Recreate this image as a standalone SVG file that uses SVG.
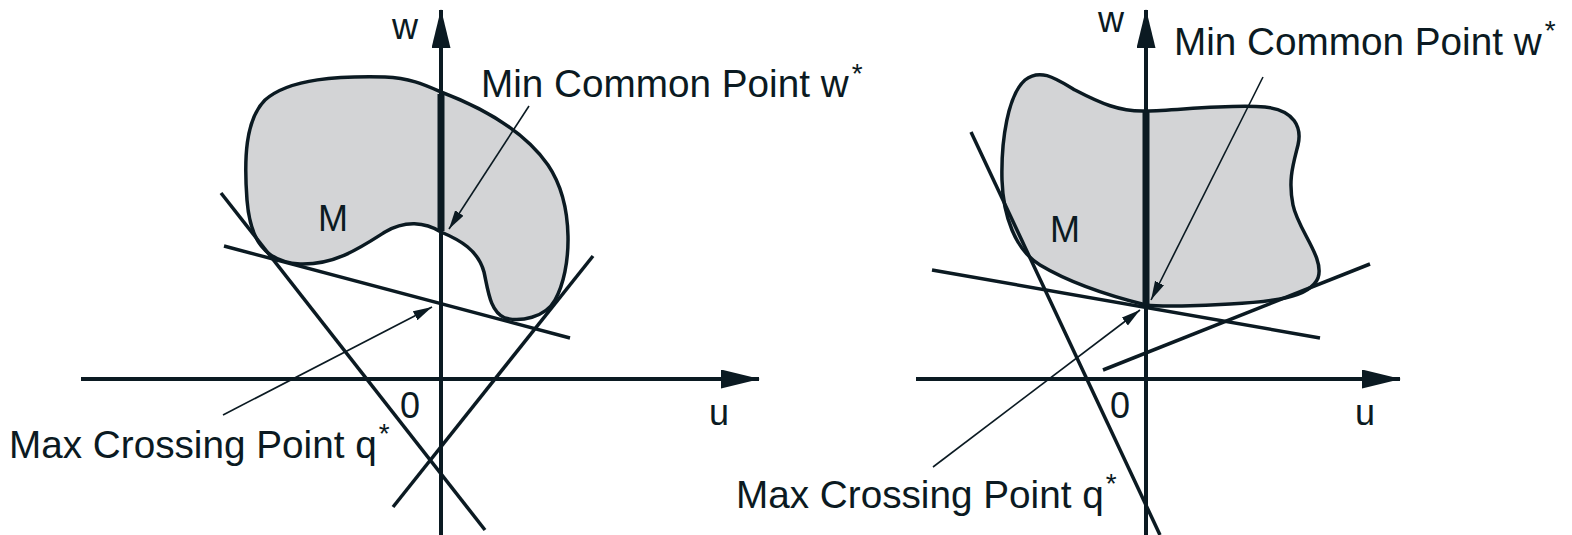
<svg xmlns="http://www.w3.org/2000/svg" width="1572" height="535" viewBox="0 0 1572 535">
<defs>
<style>
.blob{fill:#d3d4d6;stroke:#0b1a22;stroke-width:3.5;stroke-linejoin:round}
.ln{stroke:#0b1a22;stroke-width:3.5;fill:none;stroke-linecap:butt}
.ax{stroke:#0b1a22;stroke-width:4;fill:none}
.thick{stroke:#0b1a22;stroke-width:7;fill:none}
.ptr{stroke:#0b1a22;stroke-width:1.6;fill:none}
.lbl{font-family:"Liberation Sans",Arial,Helvetica,sans-serif;font-size:38.7px;fill:#0b1a22}
.axl{font-family:"Liberation Sans",Arial,Helvetica,sans-serif;font-size:36px;fill:#0b1a22}
.sup{font-size:28px}
</style>
<marker id="ah" markerUnits="userSpaceOnUse" markerWidth="20" markerHeight="12" refX="19" refY="5" orient="auto">
<path d="M0,0 L19,5 L0,10 Z" fill="#0b1a22"/>
</marker>
<marker id="axh" markerUnits="userSpaceOnUse" markerWidth="40" markerHeight="20" refX="38" refY="9.5" orient="auto">
<path d="M0,0 L39,9.5 L0,19 Z" fill="#0b1a22"/>
</marker>
</defs>

<g id="left-panel">
<g id="left-set-M">
<path class="blob" d="M 441 92 C 470 103, 520 125, 548 165 C 575 205, 572 270, 555 300 C 545 318, 520 322, 505 318 C 490 312, 488 290, 484 272 C 478 250, 460 240, 441 232 C 425 222, 405 220, 385 232 C 360 248, 335 265, 300 264 C 265 262, 250 240, 247 200 C 244 160, 245 120, 265 100 C 290 78, 340 76, 385 77 C 410 78, 425 85, 441 92 Z"/>
<text class="axl" x="318" y="231">M</text>
</g>
<g id="left-axes">
<line class="ax" x1="81" y1="379" x2="759" y2="379" marker-end="url(#axh)"/>
<line class="ax" x1="441" y1="535" x2="441" y2="10" marker-end="url(#axh)"/>
<line class="thick" x1="441" y1="94" x2="441" y2="231"/>
<text class="axl" x="392" y="39">w</text>
<text class="axl" x="709" y="425">u</text>
<text class="axl" x="400" y="418">0</text>
</g>
<g id="left-lines">
<line class="ln" x1="221" y1="193" x2="485" y2="530"/>
<line class="ln" x1="224" y1="246" x2="570" y2="338"/>
<line class="ln" x1="593" y1="256" x2="393" y2="507"/>
</g>
<g id="left-connectors">
<line class="ptr" x1="529" y1="106" x2="449" y2="229" marker-end="url(#ah)"/>
<line class="ptr" x1="223" y1="415" x2="432" y2="307" marker-end="url(#ah)"/>
</g>
<g id="left-labels">
<text class="lbl" x="481" y="97">Min Common Point w<tspan class="sup" dx="3" dy="-14">*</tspan></text>
<text class="lbl" x="9" y="458">Max Crossing Point q<tspan class="sup" dx="2" dy="-15">*</tspan></text>
</g>
</g>

<g id="right-panel">
<g id="right-set-M">
<path class="blob" d="M 1146 111 C 1180 110, 1230 104, 1265 107 C 1295 110, 1302 128, 1298 145 C 1293 165, 1288 180, 1293 205 C 1298 230, 1325 258, 1318 278 C 1310 298, 1270 302, 1230 304 C 1200 306, 1160 307, 1146 305 C 1110 296, 1070 283, 1040 265 C 1015 250, 1003 215, 1002 180 C 1001 140, 1008 95, 1025 80 C 1040 68, 1055 78, 1075 90 C 1100 103, 1120 112, 1146 111 Z"/>
<text class="axl" x="1050" y="242">M</text>
</g>
<g id="right-axes">
<line class="ax" x1="916" y1="379" x2="1400" y2="379" marker-end="url(#axh)"/>
<line class="ax" x1="1146" y1="535" x2="1146" y2="10" marker-end="url(#axh)"/>
<line class="thick" x1="1146" y1="112" x2="1146" y2="304"/>
<text class="axl" x="1098" y="32">w</text>
<text class="axl" x="1355" y="425">u</text>
<text class="axl" x="1110" y="418">0</text>
</g>
<g id="right-lines">
<line class="ln" x1="971" y1="132" x2="1160" y2="535"/>
<line class="ln" x1="932" y1="270" x2="1320" y2="338"/>
<line class="ln" x1="1103" y1="370" x2="1370" y2="264"/>
</g>
<g id="right-connectors">
<line class="ptr" x1="1263" y1="77" x2="1151" y2="300" marker-end="url(#ah)"/>
<line class="ptr" x1="933" y1="467" x2="1140" y2="310" marker-end="url(#ah)"/>
</g>
<g id="right-labels">
<text class="lbl" x="1174" y="55">Min Common Point w<tspan class="sup" dx="3" dy="-15">*</tspan></text>
<text class="lbl" x="736" y="508">Max Crossing Point q<tspan class="sup" dx="2" dy="-15">*</tspan></text>
</g>
</g>
</svg>
